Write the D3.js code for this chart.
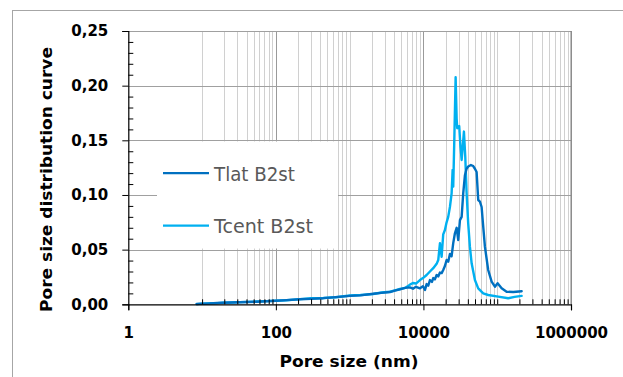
<!DOCTYPE html>
<html><head><meta charset="utf-8">
<script src="https://cdn.jsdelivr.net/npm/d3@7"></script>
<style>body{margin:0;background:#fff}svg{display:block}</style>
</head><body>
<svg id="c" width="623" height="377"></svg>
<script>
// ---- data ----
const seriesNames = ["Tlat B2st", "Tcent B2st"];
const seriesColors = ["#0070C0", "#00B0F0"];
const tlatSize = [8.45,10,12.8,16,19.4,25,32.6,42,54.9,75,100,140,212,300,439,650,1009,1400,2089,2700,3516,4100,4805,5640,6561,7210,7920,8970,9850,10500,11050,11630,12250,13050,13580,14300,15100,15880,16740,17650,18540,19550,20610,21670,22860,24100,25340,26710,28180,29630,31250,32950,34610,36490,38460,40430,44020,47300,49870,52570,55290,58290,61460,64610,68120,75460,83970,93060,101200,114800,134000,164800,214300];
const tlatValue = [0.0003,0.0006,0.0008,0.0012,0.0014,0.0016,0.0019,0.0021,0.0024,0.0028,0.0032,0.0038,0.0046,0.0050,0.0056,0.0066,0.0077,0.0082,0.0096,0.0104,0.0112,0.0125,0.0137,0.0150,0.0155,0.0143,0.0160,0.0146,0.0165,0.0132,0.0185,0.0170,0.0222,0.0205,0.0240,0.0228,0.0268,0.0255,0.0290,0.0285,0.0314,0.0350,0.0405,0.0390,0.0460,0.0440,0.0560,0.0650,0.0700,0.0588,0.0770,0.0800,0.1015,0.1180,0.1240,0.1260,0.1274,0.1265,0.1240,0.1210,0.0954,0.0940,0.0890,0.0710,0.0527,0.0314,0.0207,0.0161,0.0192,0.0146,0.0115,0.0113,0.0120];
const tcentSize = [8.45,10,12.8,16,19.4,25,32.6,42,54.9,75,100,140,212,300,439,650,1009,1400,2089,2700,3516,4100,4805,5640,6561,7210,7920,8970,9850,11050,12250,13580,15100,15880,16740,17650,18540,19550,20610,21670,22860,24100,24870,25340,26140,27310,28180,28710,30550,31700,32950,35390,36900,38460,40430,42640,45010,49870,55290,64610,75460,103200,140900,172000,214300];
const tcentValue = [0.0002,0.0005,0.0009,0.0011,0.0015,0.0017,0.0020,0.0022,0.0025,0.0029,0.0033,0.0037,0.0047,0.0055,0.0058,0.0064,0.0080,0.0085,0.0094,0.0108,0.0115,0.0128,0.0140,0.0150,0.0180,0.0195,0.0190,0.0222,0.0240,0.0268,0.0300,0.0330,0.0370,0.0405,0.0558,0.0435,0.0640,0.0680,0.0750,0.0800,0.0890,0.1015,0.1230,0.1076,0.1470,0.2077,0.1700,0.1610,0.1630,0.1450,0.1320,0.1580,0.1350,0.1020,0.0740,0.0527,0.0375,0.0222,0.0146,0.0100,0.0085,0.0070,0.0055,0.0068,0.0077];
const xMajorTicks = [1, 100, 10000, 1000000];
const xMajorLabels = ["1", "100", "10000", "1000000"];
const yTicks = [0, 0.05, 0.10, 0.15, 0.20, 0.25];
const yTickLabels = ["0,00", "0,05", "0,10", "0,15", "0,20", "0,25"];
const yMinorTicks = [0.01,0.02,0.03,0.04,0.06,0.07,0.08,0.09,0.11,0.12,0.13,0.14,0.16,0.17,0.18,0.19,0.21,0.22,0.23,0.24];
const xTitle = "Pore size (nm)";
const yTitle = "Pore size distribution curve";

// ---- layout ----
const svg = d3.select("#c");
const x = d3.scaleLog().domain([1, 1e6]).range([128.3, 571]);
const y = d3.scaleLinear().domain([0, 0.25]).range([304.3, 31]);
const FONT = "'DejaVu Sans', sans-serif";

// outer border
svg.append("rect").attr("x", 12.5).attr("y", 10.5).attr("width", 640).attr("height", 400)
  .attr("fill", "#fff").attr("stroke", "#a6a6a6").attr("stroke-width", 1);

// minor x positions (10 .. 1e6, k*10^n)
const xMinor = [];
for (let n = 1; n <= 5; n++) for (let k = 1; k <= 9; k++) {
  const v = k * Math.pow(10, n);
  if (!xMajorTicks.includes(v)) xMinor.push(v);
}
const g = svg.append("g");
// vertical minor gridlines
g.selectAll(".vmin").data(xMinor).join("line")
  .attr("x1", d => Math.round(x(d)) + 0.5).attr("x2", d => Math.round(x(d)) + 0.5)
  .attr("y1", y(0.25)).attr("y2", y(0)).attr("stroke", "#d0d0d0").attr("stroke-width", 1);
// vertical major gridlines
g.selectAll(".vmaj").data(xMajorTicks.filter(d => d > 1)).join("line")
  .attr("x1", d => Math.round(x(d)) + 0.5).attr("x2", d => Math.round(x(d)) + 0.5)
  .attr("y1", y(0.25)).attr("y2", y(0)).attr("stroke", "#9a9a9a").attr("stroke-width", 1);
// horizontal gridlines
g.selectAll(".hg").data(yTicks.filter(d => d > 0)).join("line")
  .attr("x1", x(1)).attr("x2", x(1e6))
  .attr("y1", d => Math.round(y(d)) + 0.5).attr("y2", d => Math.round(y(d)) + 0.5)
  .attr("stroke", "#a0a0a0").attr("stroke-width", 1);

// series lines
const line = d3.line().x(d => x(d[0])).y(d => y(d[1]));
const seriesData = [
  d3.zip(tlatSize, tlatValue),
  d3.zip(tcentSize, tcentValue)
];
[1, 0].forEach(i => {
  svg.append("path").datum(seriesData[i]).attr("d", line)
    .attr("fill", "none").attr("stroke", seriesColors[i]).attr("stroke-width", 2.4)
    .attr("stroke-linejoin", "round").attr("stroke-linecap", "round");
});

// axes
const fmtX = d => xMajorLabels[xMajorTicks.indexOf(d)];
const fmtY = d => yTickLabels[yTicks.findIndex(v => Math.abs(v - d) < 1e-9)];
const xAxis = svg.append("g").attr("transform", `translate(0,${y(0)})`)
  .call(d3.axisBottom(x).tickValues(xMajorTicks).tickSize(6).tickPadding(17).tickFormat(fmtX));
const xAxisMinor = svg.append("g").attr("transform", `translate(0,${y(0)})`)
  .call(d3.axisTop(x).tickValues(xMinor).tickSize(5).tickFormat(""));
const yAxis = svg.append("g").attr("transform", `translate(${x(1)},0)`)
  .call(d3.axisLeft(y).tickValues(yTicks).tickSize(6).tickPadding(14).tickFormat(fmtY));
const yAxisMinor = svg.append("g").attr("transform", `translate(${x(1)},0)`)
  .call(d3.axisRight(y).tickValues(yMinorTicks).tickSize(5).tickFormat(""));
[xAxis, xAxisMinor, yAxis, yAxisMinor].forEach(a => {
  a.select(".domain").attr("stroke", "#000").attr("stroke-width", 1.2);
  a.selectAll(".tick line").attr("stroke", "#000").attr("stroke-width", 1);
  a.selectAll("text").attr("font-family", FONT).attr("font-weight", "bold")
    .attr("font-size", 15).attr("fill", "#000");
});
yAxisMinor.select(".domain").remove();
xAxisMinor.select(".domain").remove();
// right border of plot
svg.append("line").attr("x1", x(1e6)).attr("x2", x(1e6)).attr("y1", y(0.25)).attr("y2", y(0))
  .attr("stroke", "#808080").attr("stroke-width", 1);

// titles
svg.append("text").text(xTitle).attr("x", 349).attr("y", 367).attr("text-anchor", "middle")
  .attr("font-family", FONT).attr("font-weight", "bold").attr("font-size", 16)
  .attr("textLength", 139).attr("lengthAdjust", "spacingAndGlyphs");
svg.append("text").text(yTitle).attr("transform", "translate(52,179.5) rotate(-90)")
  .attr("text-anchor", "middle")
  .attr("font-family", FONT).attr("font-weight", "bold").attr("font-size", 16)
  .attr("textLength", 265).attr("lengthAdjust", "spacingAndGlyphs");

// legend
const lg = svg.append("g");
lg.append("rect").attr("x", 157).attr("y", 141.5).attr("width", 181).attr("height", 107).attr("fill", "#fff");
const legY = [173, 225.5];
const legW = [81, 99];
seriesNames.forEach((n, i) => {
  lg.append("line").attr("x1", 163).attr("x2", 209).attr("y1", legY[i]).attr("y2", legY[i])
    .attr("stroke", seriesColors[i]).attr("stroke-width", 2.25);
  lg.append("text").text(n).attr("x", 214).attr("y", legY[i] + 7.5)
    .attr("font-family", FONT).attr("font-size", 20).attr("fill", "#595959")
    .attr("textLength", legW[i]).attr("lengthAdjust", "spacingAndGlyphs");
});
</script>
</body></html>
